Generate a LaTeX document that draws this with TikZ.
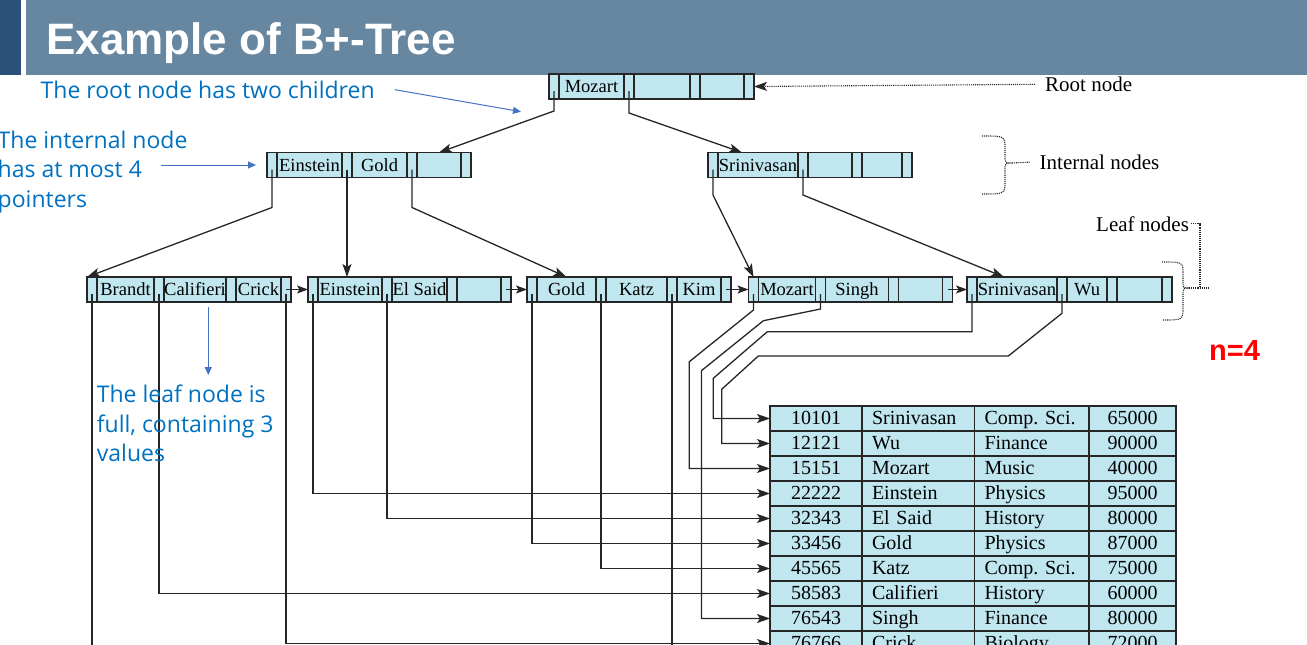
\documentclass[tikz,border=0pt]{standalone}
\usepackage{fontspec}
\setmainfont{Liberation Serif}
\newfontfamily\notefont{Open Sans}
\newfontfamily\headfont{Liberation Sans}
\usetikzlibrary{positioning, arrows.meta}

\definecolor{cellblue}{RGB}{192,230,240}
\definecolor{edgegray}{RGB}{38,38,38}
\definecolor{hdrband}{RGB}{103,134,160}
\definecolor{hdrdark}{RGB}{42,82,120}
\definecolor{noteblue}{RGB}{0,112,192}
\definecolor{notearrow}{RGB}{68,114,196}

% one B+-tree node: name, x, y, three key widths, three keys
\newcommand{\bpnode}[9]{%
	\node[ptrcell] (#1p1) at (#2,#3) {};
	\node[keycell=#4, right=0pt of #1p1] (#1k1) {#7};
	\node[ptrcell, right=0pt of #1k1] (#1p2) {};
	\node[keycell=#5, right=0pt of #1p2] (#1k2) {#8};
	\node[ptrcell, right=0pt of #1k2] (#1p3) {};
	\node[keycell=#6, right=0pt of #1p3] (#1k3) {#9};
	\node[ptrcell, right=0pt of #1k3] (#1p4) {};
}

% one row of the instructor file
\newcommand{\recrow}[5]{%
	\node[numcell=92] (r#1a) at (770,{393.5+25*#1}) {#2};
	\node[txtcell=92.5, right=0pt of r#1a] (r#1b) {#3};
	\node[txtcell=94.5, right=0pt of r#1b] (r#1c) {#4};
	\node[numcell=87, right=0pt of r#1c] (r#1d) {#5};
}

\begin{document}
\begin{tikzpicture}
		[
			x = 1pt, y = -1pt,
			bpcell/.style = {draw = edgegray, line width = 1.4pt, fill = cellblue, minimum height = 25pt, inner sep = 0pt, outer sep = 0pt, anchor = west, text height = 15.5pt, text depth = 3.5pt},
			ptrcell/.style = {bpcell, minimum width = 10pt},
			keycell/.style = {bpcell, minimum width = #1pt, font = \fontsize{18.5}{20}\selectfont},
			numcell/.style = {bpcell, minimum width = #1pt, font = \fontsize{20}{22}\selectfont},
			txtcell/.style = {bpcell, text width = #1pt, inner xsep = 10pt, align = left, font = \fontsize{20}{22}\selectfont},
			treearrow/.style = {draw = edgegray, line width = 1.3pt, -{Stealth[length = 13pt, width = 9pt, inset = 3pt]}},
			linkarrow/.style = {draw = edgegray, line width = 1.3pt, -{Stealth[length = 11pt, width = 8pt, inset = 2.5pt]}},
			recline/.style = {draw = edgegray, line width = 1.3pt},
			recarrow/.style = {recline, -{Stealth[length = 13pt, width = 9pt, inset = 3pt]}},
			dotline/.style = {draw = edgegray, line width = 1.1pt, densely dotted},
			dotarrow/.style = {dotline, -{Stealth[length = 13pt, width = 9pt, inset = 3pt]}},
			sidelabel/.style = {anchor = base west, inner sep = 0pt, font = \fontsize{21}{24}\selectfont},
			note/.style = {anchor = base west, inner sep = 0pt, align = left, text = noteblue, font = \notefont\fontsize{23}{29.6}\selectfont},
			noteline/.style = {draw = notearrow, line width = 1pt, -{Triangle[length = 8pt, width = 7pt]}}
		]
		\useasboundingbox (0,0) rectangle (1307,645);

		% slide header
		\fill[hdrdark] (0,0) rectangle (20.5,74.5);
		\fill[hdrband] (25.5,0) rectangle (1307,74.5);
		\node[anchor = base west, inner sep = 0pt, text = white, font = \headfont\bfseries\fontsize{44}{48}\selectfont] (title) at (46,54) {Example of B+-Tree};

		% tree nodes
		\bpnode{R}{549}{86.5}{65}{56}{44}{Mozart}{}{}
		\bpnode{IA}{267}{165}{65}{55}{44}{Einstein}{Gold}{}
		\bpnode{IB}{708}{165}{80}{44}{40}{Srinivasan}{}{}
		\bpnode{L1}{87}{289.5}{57}{62}{45}{Brandt}{Califieri}{Crick}
		\bpnode{L2}{308}{289.5}{64}{55}{44}{Einstein}{El Said}{}
		\bpnode{L3}{527}{289.5}{59}{61}{44}{Gold}{Katz}{Kim}
		\bpnode{L4}{748.5}{289.5}{57}{63}{44}{Mozart}{Singh}{}
		\bpnode{L5}{967}{289.5}{80}{40}{45}{Srinivasan}{Wu}{}

		% file
		\recrow{1}{10101}{Srinivasan}{Comp.\ Sci.}{65000}
		\recrow{2}{12121}{Wu}{Finance}{90000}
		\recrow{3}{15151}{Mozart}{Music}{40000}
		\recrow{4}{22222}{Einstein}{Physics}{95000}
		\recrow{5}{32343}{El Said}{History}{80000}
		\recrow{6}{33456}{Gold}{Physics}{87000}
		\recrow{7}{45565}{Katz}{Comp.\ Sci.}{75000}
		\recrow{8}{58583}{Califieri}{History}{60000}
		\recrow{9}{76543}{Singh}{Finance}{80000}
		\recrow{10}{76766}{Crick}{Biology}{72000}

		% tree pointers
		\draw[treearrow] ([yshift=-4.5pt]Rp1.center) -- ++(0,20) -- (IAk3.north);
		\draw[treearrow] ([yshift=-4.5pt]Rp2.center) -- ++(0,22) -- ([xshift=-16pt]IBk1.north);
		\draw[treearrow] ([yshift=-4.5pt]IAp1.center) -- ++(0,38) -- (L1p1.north west);
		\draw[treearrow] ([yshift=-4.5pt]IAp2.center) -- (IAp2.center |- L2k1.north);
		\draw[treearrow] ([yshift=-4.5pt]IAp3.center) -- ++(0,38) -- (L3k1.north);
		\draw[treearrow] ([yshift=-4.5pt]IBp1.center) -- ++(0,25.5) -- (L4p1.north);
		\draw[treearrow] ([yshift=-4.5pt]IBp2.center) -- ++(0,25.5) -- ([xshift=-13pt]L5k1.north);

		% leaf chain
		\draw[linkarrow] (L1p4.center) -- (L2p1.west);
		\draw[linkarrow] (L2p4.center) -- (L3p1.west);
		\draw[linkarrow] (L3p4.center) -- (L4p1.west);
		\draw[linkarrow] (L4p4.center) -- (L5p1.west);

		% record pointers
		\coordinate (pagefoot) at (0,650);
		\draw[recline] ([yshift=-4.5pt]L1p1.center) -- (L1p1.center |- pagefoot);
		\draw[recarrow] ([yshift=-4.5pt]L1p2.center) |- (r8a.west);
		\draw[recarrow] ([yshift=-4.5pt]L1p4.center) |- (r10a.west);
		\draw[recarrow] ([yshift=-4.5pt]L2p1.center) |- (r4a.west);
		\draw[recarrow] ([yshift=-4.5pt]L2p2.center) |- (r5a.west);
		\draw[recarrow] ([yshift=-4.5pt]L3p1.center) |- (r6a.west);
		\draw[recarrow] ([yshift=-4.5pt]L3p2.center) |- (r7a.west);
		\draw[recline] ([yshift=-4.5pt]L3p3.center) -- (L3p3.center |- pagefoot);
		\draw[recarrow] ([yshift=-4.5pt]L4p1.center) -- ++(0,16) -- (689.3,361.7) |- (r3a.west);
		\draw[recarrow] ([yshift=-4.5pt]L4p2.center) -- ++(0,15) -- (763.4,320.7) -- (701.4,370.7) |- (r9a.west);
		\draw[recarrow] ([yshift=-4.5pt]L5p1.center) |- (767.3,331.7) -- (713.3,378.3) |- (r1a.west);
		\draw[recarrow] ([yshift=-4.5pt]L5p2.center) -- ++(0,19.3) -- (1008.3,356) -- (758.3,356) -- (721.7,389.3) |- (r2a.west);

		% side labels
		\node[sidelabel] (rootlabel) at (1045,91.5) {Root node};
		\node[sidelabel] (intlabel) at (1039.5,169.3) {Internal nodes};
		\node[sidelabel] (leaflabel) at (1096,231) {Leaf nodes};
		\draw[dotarrow] ([xshift=-10pt]rootlabel.west) -- (Rp4.east);
		\draw[dotline] (982,136) .. controls (1005,136) .. (1005,149) -- (1005,156) .. controls (1005,163) .. (1012,163) .. controls (1005,163) .. (1005,170) -- (1005,181) .. controls (1005,194) .. (982,194);
		\draw[dotline] (1012,163) -- ([xshift=-9pt]intlabel.west);
		\draw[dotline] (1162,262) .. controls (1183,262) .. (1183,274) -- (1183,281) .. controls (1183,288) .. (1189,288) .. controls (1183,288) .. (1183,295) -- (1183,307) .. controls (1183,320) .. (1162,320);
		\draw[dotline] (1189,288) -- (1208,288);
		\draw[dotline] ([xshift=2pt]leaflabel.east) -| (1200,288);

		% remarks
		\node[note] (rootnote) at (40.5,98.3) {The root node has two children};
		\node[note] (intnote) at (-2.5,207.2) {The internal node\\has at most 4\\pointers};
		\node[note] (leafnote) at (96.7,461.7) {The leaf node is\\full, containing 3\\values};
		\coordinate (rootnotetip) at (521,111.7);
		\coordinate (intnotetail) at (161,165);
		\coordinate (intnotetip) at (256,165);
		\coordinate (leafnotetail) at (208.3,306.7);
		\coordinate (leafnotetip) at (208.3,375);
		\draw[noteline] ([xshift=20pt]rootnote.east) -- (rootnotetip);
		\draw[noteline] (intnotetail) -- (intnotetip);
		\draw[noteline] (leafnotetail) -- (leafnotetip);
		\node[anchor = base west, inner sep = 0pt, text = red, font = \headfont\bfseries\fontsize{29}{32}\selectfont] (nvalue) at (1209,360) {n=4};
\end{tikzpicture}
\end{document}
